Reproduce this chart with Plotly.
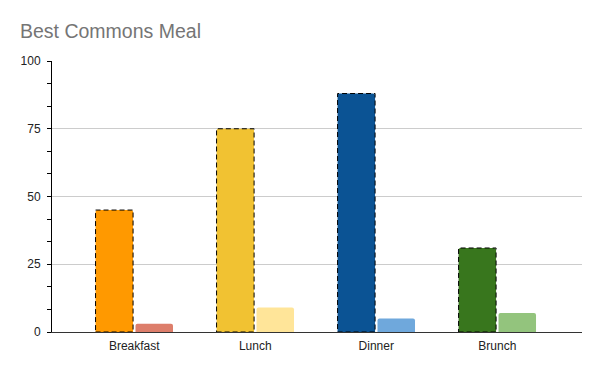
import plotly.graph_objects as go

categories = ["Breakfast", "Lunch", "Dinner", "Brunch"]
main_values = [45, 75, 88, 31]
second_values = [3, 9, 5, 7]
main_colors = ["#FF9900", "#F1C232", "#0B5394", "#38761D"]
second_colors = ["#DD7E6B", "#FFE599", "#6FA8DC", "#93C47D"]
y_ticks = [0, 25, 50, 75, 100]

idx = list(range(len(categories)))
bar_w = 0.31
gap = 0.02

# the page body has an 8px margin, so the figure is drawn 8px smaller
W, H = 592, 363

fig = go.Figure()
fig.add_trace(go.Bar(
    x=idx, y=main_values, width=bar_w, offset=-bar_w - gap / 2,
    marker=dict(color=main_colors, cornerradius=2, line=dict(width=0)),
    showlegend=False, hoverinfo="skip",
))
fig.add_trace(go.Bar(
    x=idx, y=second_values, width=bar_w, offset=gap / 2,
    marker=dict(color=second_colors, cornerradius=2, line=dict(width=0)),
    showlegend=False, hoverinfo="skip",
))

# dashed outlines around main bars, derived from data
for i, v in zip(idx, main_values):
    fig.add_shape(type="rect", xref="x", yref="y",
                  x0=i - bar_w - gap / 2, x1=i - gap / 2, y0=0, y1=v,
                  line=dict(color="black", width=1, dash="5px,3px"),
                  fillcolor="rgba(0,0,0,0)", layer="above")

fig.update_layout(
    width=W, height=H,
    margin=dict(l=44, r=18, t=53, b=39),
    paper_bgcolor="white", plot_bgcolor="white",
    barmode="overlay",
    title=dict(text="Best Commons Meal", x=12 / W, xanchor="left",
               y=1 - 23 / H, yanchor="middle",
               font=dict(family="Liberation Sans, Arial", size=19.5, color="#757575")),
    font=dict(family="Liberation Sans, Arial", size=12, color="#222222"),
)
fig.update_xaxes(
    range=[-0.68, 3.70], tickmode="array", tickvals=idx, ticktext=categories,
    showgrid=False, zeroline=False, showline=True, linecolor="#333333", linewidth=1,
    ticks="", ticklabelstandoff=3, tickfont=dict(size=12, color="#222222"),
)
fig.update_yaxes(
    range=[0, 100], tickmode="array", tickvals=y_ticks,
    showgrid=True, gridcolor="#CCCCCC", gridwidth=1,
    zeroline=False, showline=True, linecolor="black", linewidth=1,
    ticks="", ticklabelstandoff=8,
    minor=dict(dtick=25 / 3, ticks="outside", ticklen=4, tickcolor="black", showgrid=False),
    tickfont=dict(size=12, color="#222222"),
)

fig.write_html("out.html")
